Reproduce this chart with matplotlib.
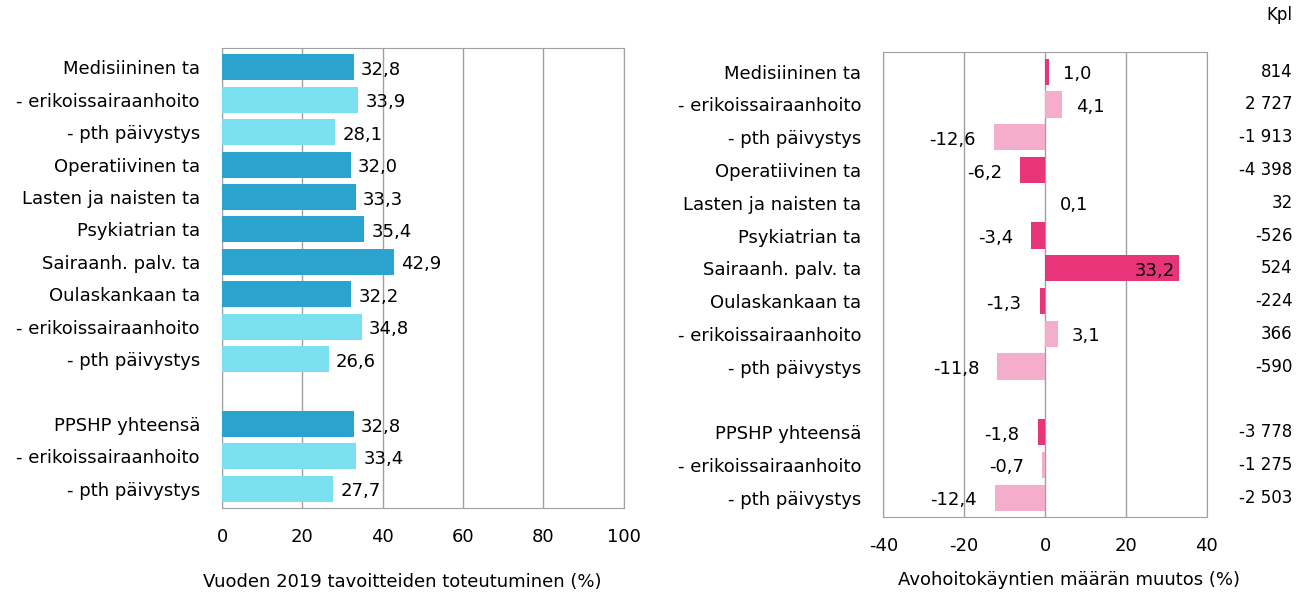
import numpy as np
import matplotlib
matplotlib.use('Agg')
from matplotlib import pyplot as plt
from matplotlib import transforms

plt.rcParams['font.family'] = ['DejaVu Sans']
plt.rcParams['axes.unicode_minus'] = False

labels = ['Medisiininen ta', '- erikoissairaanhoito', '- pth päivystys',
          'Operatiivinen ta', 'Lasten ja naisten ta', 'Psykiatrian ta',
          'Sairaanh. palv. ta', 'Oulaskankaan ta', '- erikoissairaanhoito',
          '- pth päivystys', 'PPSHP yhteensä', '- erikoissairaanhoito',
          '- pth päivystys']
is_sub = [False, True, True, False, False, False, False, False, True, True,
          False, True, True]
toteutuminen = [32.8, 33.9, 28.1, 32.0, 33.3, 35.4, 42.9, 32.2, 34.8, 26.6,
                32.8, 33.4, 27.7]
muutos = [1.0, 4.1, -12.6, -6.2, 0.1, -3.4, 33.2, -1.3, 3.1, -11.8,
          -1.8, -0.7, -12.4]
kpl = ['814', '2 727', '-1 913', '-4 398', '32', '-526', '524', '-224',
       '366', '-590', '-3 778', '-1 275', '-2 503']

# row positions, a blank row before the totals
ypos = np.array([0, 1, 2, 3, 4, 5, 6, 7, 8, 9, 11, 12, 13])

def fmt(v):
    return f'{v:.1f}'.replace('.', ',')

fs = 13
fig = plt.figure(figsize=(12.99, 5.98), dpi=100)
ax1 = fig.add_axes([0.171, 0.150, 0.309, 0.770])
ax2 = fig.add_axes([0.680, 0.135, 0.249, 0.778])

# left panel
cols1 = ['#7ADFEE' if s else '#2BA3CF' for s in is_sub]
ax1.barh(ypos, toteutuminen, height=0.8, color=cols1, zorder=3)
for y, v in zip(ypos, toteutuminen):
    ax1.text(v + 1.8, y + 0.08, fmt(v), va='center', ha='left', fontsize=fs, zorder=4)
ax1.set_xlim(0, 100)
ax1.set_xticks([0, 20, 40, 60, 80, 100])
fig.text(0.310, 0.026, 'Vuoden 2019 tavoitteiden toteutuminen (%)', ha='center',
         va='center', fontsize=fs)

# right panel
cols2 = ['#F4AECB' if s else '#E8357A' for s in is_sub]
ax2.barh(ypos, muutos, height=0.8, color=cols2, zorder=3)
for y, v in zip(ypos, muutos):
    if v > 25:
        ax2.text(v - 1, y + 0.08, fmt(v), va='center', ha='right', fontsize=fs, zorder=4)
    elif v >= 0:
        ax2.text(v + 3.5, y + 0.08, fmt(v), va='center', ha='left', fontsize=fs, zorder=4)
    else:
        ax2.text(v - 4.5, y + 0.08, fmt(v), va='center', ha='right', fontsize=fs, zorder=4)
ax2.set_xlim(-40, 40)
ax2.set_xticks([-40, -20, 0, 20, 40])
fig.text(0.823, 0.030, 'Avohoitokäyntien määrän muutos (%)', ha='center',
         va='center', fontsize=fs)

trans = transforms.blended_transform_factory(fig.transFigure, ax2.transData)
for y, k in zip(ypos, kpl):
    ax2.text(0.995, y, k, transform=trans, ha='right', va='center', fontsize=12)
fig.text(0.995, 0.975, 'Kpl', ha='right', va='center', fontsize=12)

for ax in (ax1, ax2):
    ax.set_yticks(ypos)
    ax.set_yticklabels(labels, fontsize=fs)
    ax.set_ylim(13.6, -0.6)
    ax.tick_params(length=0, labelsize=fs)
    ax.tick_params(axis='x', pad=14)
    ax.tick_params(axis='y', pad=16)
    ax.grid(axis='x', color='#A0A0A0', linewidth=1, zorder=0)
    for sp in ax.spines.values():
        sp.set_color('#A0A0A0')

fig.savefig('out.png', dpi=100)
